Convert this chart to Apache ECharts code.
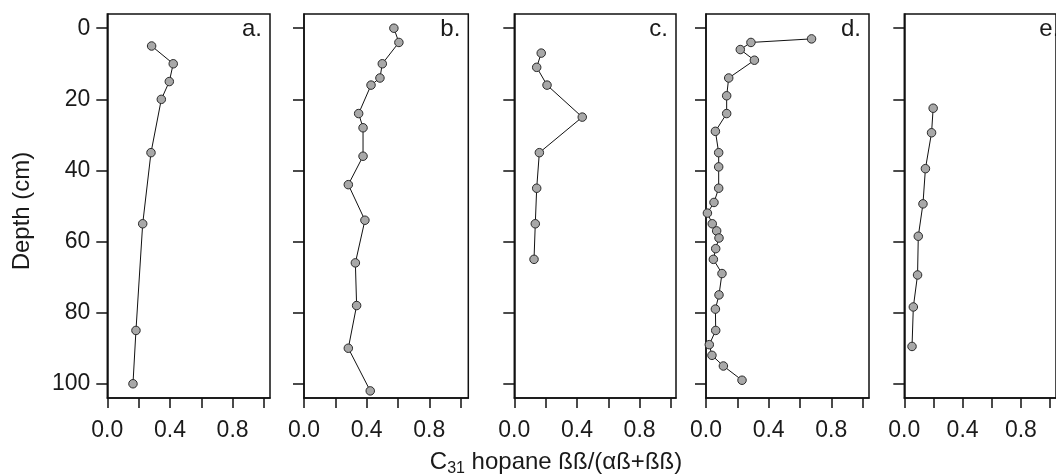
<!DOCTYPE html>
<html>
<head>
<meta charset="utf-8">
<script src="https://cdn.jsdelivr.net/npm/echarts@6/dist/echarts.min.js"></script>
<style>
html,body{margin:0;padding:0;background:#fff;}
#chart{width:1056px;height:475px;}
</style>
</head>
<body>
<div id="chart"></div>
<script>
// ---- data (depth in cm, ratio values) ----
const depthA = [5, 10, 15, 20, 35, 55, 85, 100];
const valueA = [0.283, 0.421, 0.396, 0.345, 0.279, 0.226, 0.183, 0.164];

const depthB = [0, 4, 10, 14, 16, 24, 28, 36, 44, 54, 66, 78, 90, 102];
const valueB = [0.574, 0.606, 0.500, 0.485, 0.428, 0.349, 0.377, 0.377, 0.283, 0.389, 0.328, 0.336, 0.283, 0.423];

const depthC = [7, 11, 16, 25, 35, 45, 55, 65];
const valueC = [0.172, 0.143, 0.209, 0.434, 0.160, 0.143, 0.134, 0.126];

const depthD = [3, 4, 6, 9, 14, 19, 24, 29, 35, 39, 45, 49, 52, 55, 57, 59, 62, 65, 69, 75, 79, 85, 89, 92, 95, 99];
const valueD = [0.674, 0.287, 0.219, 0.309, 0.145, 0.132, 0.132, 0.060, 0.081, 0.081, 0.081, 0.051, 0.009, 0.040, 0.068, 0.083, 0.062, 0.047, 0.102, 0.083, 0.060, 0.062, 0.021, 0.038, 0.111, 0.230];

const depthE = [22.5, 29.4, 39.5, 49.4, 58.5, 69.4, 78.4, 89.5];
const valueE = [0.198, 0.187, 0.145, 0.128, 0.096, 0.091, 0.062, 0.053];

const panelNames = ['a.', 'b.', 'c.', 'd.', 'e.'];
const xTickValues = [0, 0.2, 0.4, 0.6, 0.8, 1.0];
const xLabelValues = [0, 0.4, 0.8];
const yTickValues = [0, 20, 40, 60, 80, 100];
const yTitle = 'Depth (cm)';

// ---- layout (kept separate from data) ----
const FONT = '"Liberation Sans", Arial, Helvetica, sans-serif';
const TXT = '#1a1a1a';
const layout = [
  { left: 107.3, width: 162.7 },
  { left: 304.0, width: 164.3 },
  { left: 514.3, width: 161.7 },
  { left: 706.0, width: 163.0 },
  { left: 904.3, width: 163.0 }
];
const PX_PER_UNIT = 156.6; // pixels per 1.0 on x
const GRID_TOP = 14, GRID_H = 384;

const seriesData = [
  [depthA, valueA], [depthB, valueB], [depthC, valueC], [depthD, valueD], [depthE, valueE]
];

const grids = [], xAxes = [], yAxes = [], series = [], graphics = [];
layout.forEach((g, i) => {
  grids.push({
    left: g.left, top: GRID_TOP, width: g.width, height: GRID_H,
    show: true, borderColor: '#111', borderWidth: 1.5, backgroundColor: 'transparent',
    containLabel: false
  });
  xAxes.push({
    type: 'value', gridIndex: i, position: 'bottom', min: 0, max: +(g.width / PX_PER_UNIT).toFixed(4),
    axisLine: { show: true, onZero: false, lineStyle: { color: '#111', width: 1.5 } },
    axisTick: { show: true, length: 10, inside: false, customValues: xTickValues, lineStyle: { color: '#111', width: 1.5 } },
    axisLabel: { show: true, customValues: xLabelValues, margin: 21, fontSize: 23, fontFamily: FONT, color: TXT,
                 formatter: v => v.toFixed(1) },
    splitLine: { show: false }
  });
  yAxes.push({
    type: 'value', gridIndex: i, position: 'left', inverse: true, min: -4, max: 104,
    axisLine: { show: true, onZero: false, lineStyle: { color: '#111', width: 1.5 } },
    axisTick: { show: true, length: 11, inside: false, customValues: yTickValues, lineStyle: { color: '#111', width: 1.5 } },
    axisLabel: { show: i === 0, customValues: yTickValues, margin: 17, fontSize: 23, fontFamily: FONT, color: TXT },
    splitLine: { show: false }
  });
  const [dep, val] = seriesData[i];
  series.push({
    type: 'line', xAxisIndex: i, yAxisIndex: i,
    data: dep.map((d, k) => [val[k], d]),
    symbol: 'circle', symbolSize: 8.5, clip: false,
    lineStyle: { color: '#111', width: 1 },
    itemStyle: { color: '#a8a8a8', borderColor: '#2a2a2a', borderWidth: 1 },
    emphasis: { disabled: true },
    animation: false
  });
  graphics.push({
    type: 'text', x: g.left + g.width - 8, y: 29,
    style: { text: panelNames[i], fontSize: 24, fontFamily: FONT, fill: TXT, align: 'right', verticalAlign: 'middle' }
  });
});

graphics.push({
  type: 'text', x: 22, y: 211, rotation: Math.PI / 2,
  style: { text: yTitle, fontSize: 24, fontFamily: FONT, fill: TXT, align: 'center', verticalAlign: 'middle' }
});
graphics.push({
  type: 'text', x: 556, y: 462,
  style: {
    text: '{n|C}{s|31}{n| hopane ßß/(αß+ßß)}',
    align: 'center', verticalAlign: 'middle',
    rich: {
      n: { fontSize: 24, fontFamily: FONT, fill: TXT, lineHeight: 30, verticalAlign: 'middle' },
      s: { fontSize: 16, fontFamily: FONT, fill: TXT, lineHeight: 30, verticalAlign: 'bottom' }
    }
  }
});

const chart = echarts.init(document.getElementById('chart'), null, { renderer: 'canvas' });
chart.setOption({
  animation: false,
  backgroundColor: '#fff',
  grid: grids, xAxis: xAxes, yAxis: yAxes, series: series,
  graphic: graphics
});
</script>
</body>
</html>
